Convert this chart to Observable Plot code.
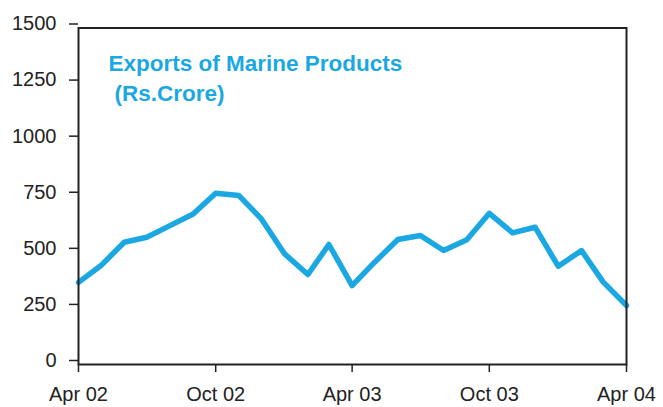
<!DOCTYPE html>
<html>
<head>
<meta charset="utf-8">
<script src="https://cdn.jsdelivr.net/npm/d3@7"></script>
<script src="https://cdn.jsdelivr.net/npm/@observablehq/plot@0.6"></script>
<style>
  html, body { margin: 0; padding: 0; background: #fff; }
</style>
</head>
<body>
<div id="chart"></div>
<script>
const months = [
  "2002-04","2002-05","2002-06","2002-07","2002-08","2002-09","2002-10","2002-11","2002-12",
  "2003-01","2003-02","2003-03","2003-04","2003-05","2003-06","2003-07","2003-08","2003-09",
  "2003-10","2003-11","2003-12","2004-01","2004-02","2004-03","2004-04"
];
const exportsRsCrore = [
  366, 441, 545, 567, 619, 671, 763, 753, 649,
  493, 401, 535, 352, 456, 557, 575, 508, 556,
  674, 587, 612, 438, 508, 367, 263
];
const yTicks = [0, 250, 500, 750, 1000, 1250, 1500];
const xTickMonths = ["2002-04", "2002-10", "2003-04", "2003-10", "2004-04"];
const xTickLabels = ["Apr 02", "Oct 02", "Apr 03", "Oct 03", "Apr 04"];
const titleLine1 = "Exports of Marine Products";
const titleLine2 = "(Rs.Crore)";

const parse = d3.utcParse("%Y-%m");
const data = months.map((m, i) => ({date: parse(m), value: exportsRsCrore[i]}));
const tickDates = xTickMonths.map(parse);
const labelOf = new Map(tickDates.map((d, i) => [+d, xTickLabels[i]]));

const blue = "#1ba8e2";
const ink = "#222";

const chart = Plot.plot({
  width: 663,
  height: 407,
  marginLeft: 78,
  marginRight: 37,
  marginTop: 27.5,
  marginBottom: 43,
  style: {fontFamily: "'Liberation Sans', Arial, sans-serif", fontSize: "20px", color: ink, background: "#fff"},
  x: {type: "utc", domain: [tickDates[0], tickDates[tickDates.length - 1]]},
  y: {domain: [0, 1500]},
  marks: [
    Plot.axisY({ticks: yTicks, tickFormat: d3.format("d"), tickSize: 9, tickPadding: 13, fontSize: 20, dy: -4, label: null, stroke: ink, strokeWidth: 1.5, color: ink}),
    Plot.axisX({ticks: tickDates, tickFormat: d => labelOf.get(+d), tickSize: 8, tickPadding: 14, fontSize: 20, label: null, stroke: ink, strokeWidth: 1.5}),
    Plot.line(data, {x: "date", y: "value", stroke: blue, strokeWidth: 5.5, strokeLinejoin: "round"}),
    Plot.frame({stroke: ink, strokeWidth: 2}),
    Plot.text([titleLine1], {text: d => d, frameAnchor: "top-left", textAnchor: "start", lineAnchor: "bottom", dx: 30, dy: 42.5, fill: blue, fontSize: 22.5, fontWeight: "bold"}),
    Plot.text([titleLine2], {text: d => d, frameAnchor: "top-left", textAnchor: "start", lineAnchor: "bottom", dx: 36, dy: 72.5, fill: blue, fontSize: 22.5, fontWeight: "bold"})
  ]
});
document.getElementById("chart").appendChild(chart);
</script>
</body>
</html>
